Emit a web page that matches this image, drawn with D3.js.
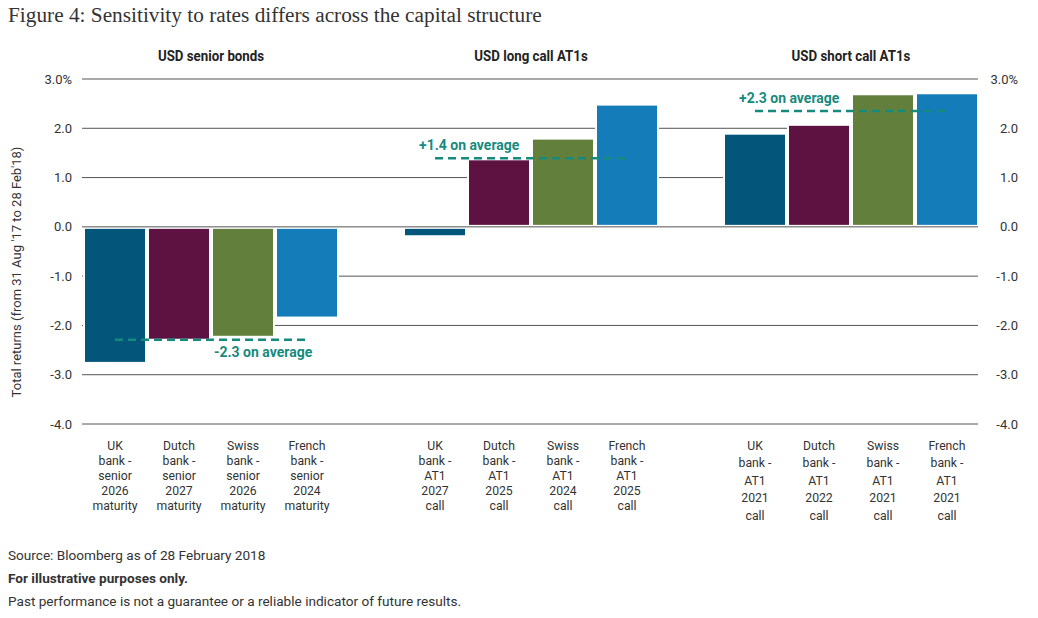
<!DOCTYPE html>
<html>
<head>
<meta charset="utf-8">
<script src="https://cdn.jsdelivr.net/npm/d3@7"></script>
<style>
body { margin: 0; background: #fff; }
svg { font-family: Roboto, "Liberation Sans", sans-serif; }
</style>
</head>
<body>
<svg id="chart" width="1038" height="618"></svg>
<script>
var groups = ["USD senior bonds", "USD long call AT1s", "USD short call AT1s"];
var banks = ["UK", "Dutch", "Swiss", "French"];
var bank_colors = ["#03557a", "#5e1242", "#62803c", "#147cb8"];

var senior_values = [-2.74, -2.27, -2.21, -1.82];
var long_call_values = [-0.17, 1.35, 1.77, 2.46];
var short_call_values = [1.87, 2.05, 2.67, 2.69];

var avg_values = [-2.29, 1.39, 2.35];
var avg_labels = ["-2.3 on average", "+1.4 on average", "+2.3 on average"];

var senior_labels = [
    ["UK", "bank -", "senior", "2026", "maturity"],
    ["Dutch", "bank -", "senior", "2027", "maturity"],
    ["Swiss", "bank -", "senior", "2026", "maturity"],
    ["French", "bank -", "senior", "2024", "maturity"]];
var long_call_labels = [
    ["UK", "bank -", "AT1", "2027", "call"],
    ["Dutch", "bank -", "AT1", "2025", "call"],
    ["Swiss", "bank -", "AT1", "2024", "call"],
    ["French", "bank -", "AT1", "2025", "call"]];
var short_call_labels = [
    ["UK", "bank -", "AT1", "2021", "call"],
    ["Dutch", "bank -", "AT1", "2022", "call"],
    ["Swiss", "bank -", "AT1", "2021", "call"],
    ["French", "bank -", "AT1", "2021", "call"]];

var y_ticks = [3, 2, 1, 0, -1, -2, -3, -4];

var title_text = "Figure 4: Sensitivity to rates differs across the capital structure";
var y_title = "Total returns (from 31 Aug '17 to 28 Feb'18)";
var notes = ["Source: Bloomberg as of 28 February 2018",
    "For illustrative purposes only.",
    "Past performance is not a guarantee or a reliable indicator of future results."];

var all_values = [senior_values, long_call_values, short_call_values];
var all_labels = [senior_labels, long_call_labels, short_call_labels];

var svg = d3.select("#chart");
var teal = "#178a7e";
var grid_color = "#555";

var y = d3.scaleLinear().domain([-4, 3]).range([424, 79]);
var x_group = d3.scaleBand().domain(groups).range([83, 979]).paddingInner(0.2);
var x_bank = d3.scaleBand().domain(banks).range([0, x_group.bandwidth()]);

// title
svg.append("text")
    .attr("x", 8).attr("y", 22)
    .attr("font-family", "'Liberation Serif', 'DejaVu Serif', serif")
    .attr("font-size", 21.3)
    .attr("fill", "#333")
    .text(title_text);

// grid lines
svg.append("g").selectAll("line")
    .data(y_ticks.filter(d => d != 0))
    .enter()
    .append("line")
    .attr("x1", 82).attr("x2", 978)
    .attr("y1", d => y(d)).attr("y2", d => y(d))
    .attr("stroke", grid_color)
    .attr("stroke-width", 1);

function tick_text(d) {
    var s = d.toFixed(1);
    if (d == 3) s = s + "%";
    return s;
}

svg.append("g").selectAll("text")
    .data(y_ticks)
    .enter()
    .append("text")
    .attr("x", 72).attr("y", d => y(d) + 4.5)
    .attr("text-anchor", "end")
    .attr("font-size", 13)
    .attr("fill", "#333")
    .text(tick_text);

svg.append("g").selectAll("text")
    .data(y_ticks)
    .enter()
    .append("text")
    .attr("x", 1018).attr("y", d => y(d) + 4.5)
    .attr("text-anchor", "end")
    .attr("font-size", 13)
    .attr("fill", "#333")
    .text(tick_text);

svg.append("text")
    .attr("transform", "translate(21," + 272 + ") rotate(-90)")
    .attr("text-anchor", "middle")
    .attr("font-size", 13)
    .attr("fill", "#333")
    .text(y_title);

// groups
groups.forEach(function (grp, gi) {
    var g = svg.append("g")
        .attr("transform", "translate(" + x_group(grp) + ",0)");

    g.append("text")
        .attr("transform", "translate(" + (x_group.bandwidth() / 2) + ",61) scale(0.95,1)")
        .attr("text-anchor", "middle")
        .attr("font-size", 14)
        .attr("font-weight", "bold")
        .attr("fill", "#222")
        .text(grp);

    var rows = banks.map((b, i) => ({bank: b, value: all_values[gi][i], color: bank_colors[i], label: all_labels[gi][i]}));

    // white knock-out behind each bar hides the grid lines in the gaps
    g.selectAll(".bar_bg")
        .data(rows)
        .enter()
        .append("rect")
        .attr("class", "bar_bg")
        .attr("x", d => x_bank(d.bank))
        .attr("width", x_bank.bandwidth())
        .attr("y", d => d.value > 0 ? y(d.value) - 2 : y(0))
        .attr("height", d => Math.abs(y(d.value) - y(0)) + 2)
        .attr("fill", "#fff");

    g.selectAll(".bar")
        .data(rows)
        .enter()
        .append("rect")
        .attr("class", "bar")
        .attr("x", d => x_bank(d.bank) + 2)
        .attr("width", x_bank.bandwidth() - 4)
        .attr("y", d => d.value > 0 ? y(d.value) : y(0) + 2)
        .attr("height", d => Math.abs(y(d.value) - y(0)) - 2)
        .attr("fill", d => d.color);

    var line_gap = gi == 2 ? 17.5 : 15;
    rows.forEach(function (r) {
        var lbl = g.append("text")
            .attr("font-size", 13)
            .attr("fill", "#333")
            .attr("text-anchor", "middle")
            .attr("transform", "translate(" + (x_bank(r.bank) + x_bank.bandwidth() / 2) + ",450) scale(0.94,1)");
        r.label.forEach(function (ln, li) {
            lbl.append("tspan")
                .attr("x", 0)
                .attr("y", li * line_gap)
                .text(ln);
        });
    });

    // average line
    var x_start = x_bank(banks[0]) + x_bank.bandwidth() / 2;
    var x_end = x_bank(banks[3]) + x_bank.bandwidth() / 2;
    var avg = avg_values[gi];
    g.append("line")
        .attr("x1", x_start).attr("x2", x_end)
        .attr("y1", y(avg)).attr("y2", y(avg))
        .attr("stroke", teal)
        .attr("stroke-width", 2.5)
        .attr("stroke-dasharray", "8,5");

    var lx = avg < 0 ? x_bank(banks[2]) + 3 : 16;
    var ly = avg < 0 ? y(avg) + 17 : y(avg) - 8;
    g.append("text")
        .attr("transform", "translate(" + lx + "," + ly + ")")
        .attr("font-size", 14)
        .attr("font-weight", "bold")
        .attr("fill", teal)
        .text(avg_labels[gi]);
});

// zero line on top
svg.append("line")
    .attr("x1", 82).attr("x2", 978)
    .attr("y1", y(0)).attr("y2", y(0))
    .attr("stroke", grid_color)
    .attr("stroke-width", 1);

// notes
svg.append("g").selectAll("text")
    .data(notes)
    .enter()
    .append("text")
    .attr("x", 8)
    .attr("y", (d, i) => 560 + i * 23)
    .attr("font-size", 13.6)
    .attr("font-weight", (d, i) => i == 1 ? "bold" : "normal")
    .attr("fill", "#333")
    .text(d => d);
</script>
</body>
</html>
